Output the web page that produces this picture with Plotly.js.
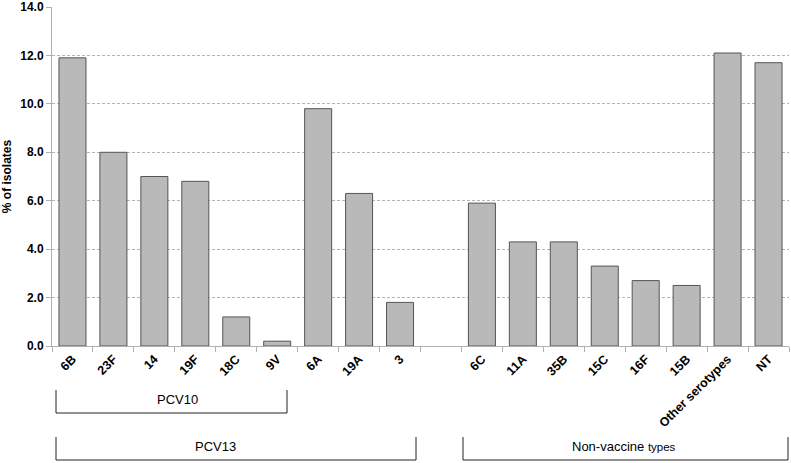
<!DOCTYPE html>
<html>
<head>
<meta charset="utf-8">
<script src="https://cdn.plot.ly/plotly-3.0.1.min.js"></script>
<style>html,body{margin:0;padding:0;background:#fff;}#chart{width:791px;height:463px;}</style>
</head>
<body>
<div id="chart"></div>
<script>
const categories = ["6B","23F","14","19F","18C","9V","6A","19A","3"," ","6C","11A","35B","15C","16F","15B","Other serotypes","NT"];
const percentIsolates = [11.9, 8.0, 7.0, 6.8, 1.2, 0.2, 9.8, 6.3, 1.8, null, 5.9, 4.3, 4.3, 3.3, 2.7, 2.5, 12.1, 11.7];
const yTicks = [0, 2, 4, 6, 8, 10, 12, 14];
const groupLabels = ["PCV10", "PCV13", "Non-vaccine <span style='font-size:11.5px'>types</span>"];

const L = 52, R = 2, T = 7, B = 117, W = 791, H = 463;
const pw = W - L - R, ph = H - T - B;
const px = v => (v - L) / pw;
const py = v => (H - B - v) / ph;

function bracket(x0, x1, yTop, yBot) {
  return {type: 'path', xref: 'paper', yref: 'paper',
    path: `M ${px(x0)} ${py(yTop)} L ${px(x0)} ${py(yBot)} L ${px(x1)} ${py(yBot)} L ${px(x1)} ${py(yTop)}`,
    line: {color: '#222', width: 1}};
}

const data = [{
  type: 'bar', x: categories, y: percentIsolates,
  marker: {color: '#b9b9b9', line: {color: '#555555', width: 1}},
  width: 0.66, hoverinfo: 'x+y'
}];

const layout = {
  width: W, height: H,
  margin: {l: L, r: R, t: T, b: B, pad: 0},
  paper_bgcolor: '#fff', plot_bgcolor: '#fff',
  showlegend: false,
  font: {family: 'Liberation Sans, Arial, sans-serif', color: '#000'},
  xaxis: {
    type: 'category', tickson: 'boundaries', ticks: 'outside', ticklen: 5, tickcolor: '#b0b0b0',
    tickangle: -45, tickfont: {size: 12.5, family: 'Liberation Sans, Arial', weight: 'bold'},
    showline: true, linecolor: '#b0b0b0', linewidth: 1, showgrid: false, zeroline: false,
    range: [-0.5, categories.length - 0.5], fixedrange: true
  },
  yaxis: {
    range: [0, 14], tickvals: yTicks, tickformat: '.1f',
    ticks: 'outside', ticklen: 5, tickcolor: '#b0b0b0',
    tickfont: {size: 12, family: 'Liberation Sans, Arial', weight: 'bold'},
    showline: true, linecolor: '#b0b0b0', linewidth: 1,
    showgrid: true, gridcolor: '#b4b4b4', griddash: '3px,2px', gridwidth: 1, zeroline: false,
    title: {text: '% of isolates', font: {size: 12, family: 'Liberation Sans, Arial', weight: 'bold'}, standoff: 6}
  },
  shapes: [
    bracket(56, 287, 390, 413),
    bracket(56, 416, 437, 460),
    bracket(463, 788, 437, 460)
  ],
  annotations: [
    {xref: 'paper', yref: 'paper', x: px(177), y: py(399), text: groupLabels[0], showarrow: false, font: {size: 13}, xanchor: 'center', yanchor: 'middle'},
    {xref: 'paper', yref: 'paper', x: px(215), y: py(446), text: groupLabels[1], showarrow: false, font: {size: 13}, xanchor: 'center', yanchor: 'middle'},
    {xref: 'paper', yref: 'paper', x: px(624), y: py(446), text: groupLabels[2], showarrow: false, font: {size: 13}, xanchor: 'center', yanchor: 'middle'}
  ]
};

Plotly.newPlot('chart', data, layout, {displayModeBar: false, staticPlot: true});
</script>
</body>
</html>
